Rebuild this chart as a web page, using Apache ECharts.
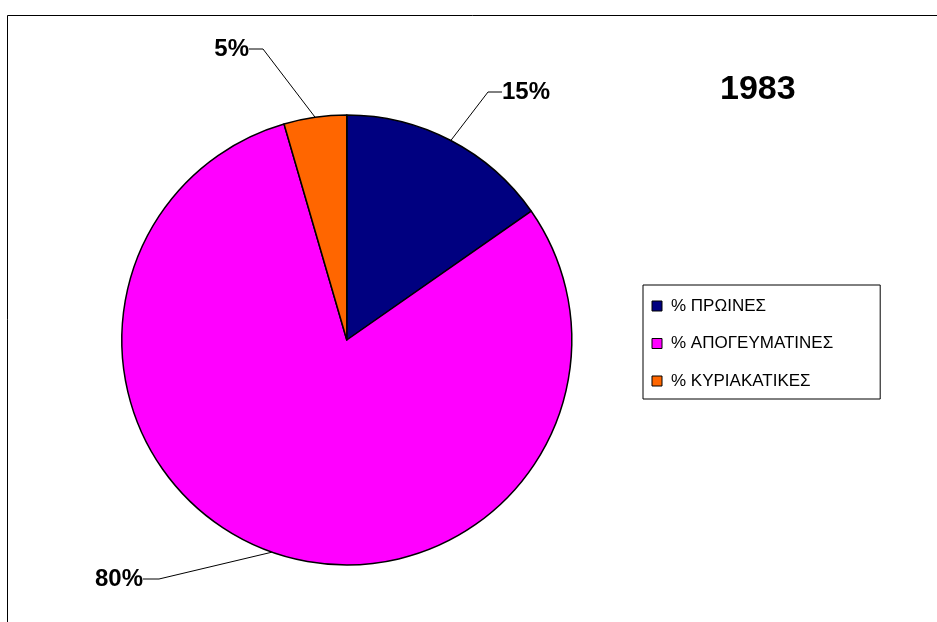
<!DOCTYPE html>
<html>
<head>
<meta charset="utf-8">
<script src="https://cdn.jsdelivr.net/npm/echarts@6/dist/echarts.min.js"></script>
<style>
  html, body { margin: 0; padding: 0; background: #fff; }
  #chart { width: 937px; height: 622px; }
</style>
</head>
<body>
<div id="chart"></div>
<script>
// ---- data ----
const categories = ['% ΠΡΩΙΝΕΣ', '% ΑΠΟΓΕΥΜΑΤΙΝΕΣ', '% ΚΥΡΙΑΚΑΤΙΚΕΣ'];
const values = [15.3, 80.2, 4.5];
const chartTitle = '1983';

// ---- styles / layout ----
const colors = ['#000080', '#FF00FF', '#FF6600'];
const FONT = 'Arial, "Liberation Sans", Helvetica, sans-serif';
const labelAnchors = [
  { bend: [488, 92], end: [502, 92], align: 'left' },
  { bend: [159, 579], end: [143, 579], align: 'right' },
  { bend: [263, 49], end: [249, 49], align: 'right' }
];

const chart = echarts.init(document.getElementById('chart'), null, { renderer: 'canvas' });

const option = {
  backgroundColor: '#ffffff',
  animation: false,
  color: colors,
  title: {
    text: chartTitle,
    left: 715,
    top: 68,
    textStyle: { fontFamily: FONT, fontSize: 34, fontWeight: 'bold', color: '#000' }
  },
  legend: {
    orient: 'vertical',
    left: 643,
    top: 285,
    data: categories,
    icon: 'rect',
    itemWidth: 10,
    itemHeight: 10,
    itemGap: 19.5,
    padding: [12, 47, 9, 8.5],
    borderColor: '#000',
    borderWidth: 1,
    backgroundColor: '#fff',
    itemStyle: { borderColor: '#000', borderWidth: 1 },
    textStyle: { fontFamily: FONT, fontSize: 17, color: '#000', lineHeight: 18, padding: [0, 0, 0, 4] }
  },
  graphic: [
    {
      type: 'rect',
      shape: { x: 7.5, y: 15.5, width: 1200, height: 1000 },
      style: { fill: 'none', stroke: '#000', lineWidth: 1 },
      silent: true,
      z: -1
    }
  ],
  series: [
    {
      type: 'pie',
      center: [346.8, 340],
      radius: 225,
      startAngle: 90,
      clockwise: true,
      percentPrecision: 0,
      data: categories.map((name, i) => ({ name, value: values[i] })),
      itemStyle: { borderColor: '#000', borderWidth: 1.5 },
      label: {
        show: true,
        position: 'outside',
        formatter: '{d}%',
        fontFamily: FONT,
        fontSize: 24,
        fontWeight: 'bold',
        color: '#000'
      },
      labelLine: {
        show: true,
        length: 20,
        length2: 10,
        lineStyle: { color: '#000', width: 1 }
      },
      labelLayout: function (params) {
        const a = labelAnchors[params.dataIndex];
        const p0 = params.labelLinePoints ? params.labelLinePoints[0] : a.bend;
        return {
          x: a.end[0],
          y: a.end[1],
          align: a.align,
          verticalAlign: 'middle',
          labelLinePoints: [p0, a.bend, a.end]
        };
      }
    }
  ]
};

chart.setOption(option);
</script>
</body>
</html>
